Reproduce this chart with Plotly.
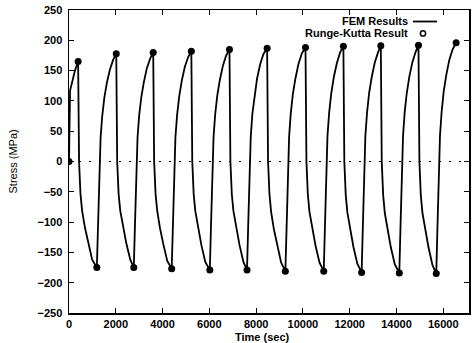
import plotly.graph_objects as go

# FEM results: time (s) and stress (MPa)
fem_time = [
    0, 20, 45, 115, 255, 390,
    430, 490, 560, 680, 820, 990, 1190,
    1240, 1280, 1310, 1350, 1420, 1510, 1620, 1750, 1890, 2020,
    2060, 2120, 2190, 2310, 2450, 2620, 2770,
    2820, 2860, 2890, 2930, 3000, 3090, 3200, 3330, 3470, 3600,
    3640, 3700, 3770, 3890, 4030, 4200, 4390,
    4440, 4480, 4510, 4550, 4620, 4710, 4820, 4950, 5090, 5230,
    5270, 5330, 5400, 5520, 5660, 5830, 6020,
    6070, 6110, 6140, 6180, 6250, 6340, 6450, 6580, 6720, 6860,
    6900, 6960, 7030, 7150, 7290, 7460, 7610,
    7660, 7700, 7730, 7770, 7840, 7930, 8040, 8170, 8310, 8470,
    8510, 8570, 8640, 8760, 8900, 9070, 9250,
    9300, 9340, 9370, 9410, 9480, 9570, 9680, 9810, 9950, 10110,
    10150, 10210, 10280, 10400, 10540, 10710, 10890,
    10940, 10980, 11010, 11050, 11120, 11210, 11320, 11450, 11590, 11730,
    11770, 11830, 11900, 12020, 12160, 12330, 12510,
    12560, 12600, 12630, 12670, 12740, 12830, 12940, 13070, 13210, 13330,
    13370, 13430, 13500, 13620, 13760, 13930, 14120,
    14170, 14210, 14240, 14280, 14350, 14440, 14550, 14680, 14820, 14940,
    14980, 15040, 15110, 15230, 15370, 15540, 15700,
    15750, 15790, 15820, 15860, 15930, 16020, 16130, 16260, 16400, 16550,
]
fem_stress = [
    0, 100, 117, 128, 150, 165,
    0, -53, -81, -109, -135, -162, -175,
    -105, -51, 0, 39, 75, 105, 130, 152, 168, 178,
    0, -53, -81, -109, -135, -162, -175,
    -105, -51, 0, 40, 76, 106, 131, 154, 170, 180,
    0, -53, -81, -110, -136, -164, -177,
    -106, -51, 0, 40, 76, 107, 133, 156, 172, 182,
    0, -54, -82, -111, -138, -166, -179,
    -107, -52, 0, 41, 78, 109, 135, 158, 175, 185,
    0, -54, -82, -111, -138, -166, -179,
    -107, -52, 0, 41, 79, 110, 137, 160, 177, 187,
    0, -54, -83, -112, -139, -167, -181,
    -109, -52, 0, 41, 79, 111, 137, 161, 178, 188,
    0, -54, -83, -112, -139, -167, -181,
    -109, -52, 0, 42, 80, 112, 139, 162, 180, 190,
    0, -55, -84, -113, -141, -169, -183,
    -110, -53, 0, 42, 80, 113, 139, 163, 180, 191,
    0, -55, -85, -114, -142, -170, -184,
    -110, -53, 0, 42, 81, 113, 140, 164, 181, 192,
    0, -56, -85, -115, -142, -171, -185,
    -111, -54, 0, 43, 82, 116, 143, 168, 185, 196,
]

# Runge-Kutta results (points)
rk_time = [0, 390, 1190, 2020, 2770, 3600, 4390, 5230, 6020, 6860, 7610,
           8470, 9250, 10110, 10890, 11730, 12510, 13330, 14120, 14940, 15700, 16550]
rk_stress = [0, 165, -175, 178, -175, 180, -177, 182, -179, 185, -179,
             187, -181, 188, -181, 190, -183, 191, -184, 192, -185, 196]

series_names = ["FEM Results", "Runge-Kutta Result"]
x_title = "Time (sec)"
y_title = "Stress (MPa)"

FONT = "Liberation Sans, Arial, sans-serif"
TXT = dict(family=FONT, size=11, color="black", weight="bold")
TXT_Y = dict(family=FONT, size=11, color="black")

fig = go.Figure()
fig.add_trace(go.Scatter(x=fem_time, y=fem_stress, mode="lines",
                         line=dict(color="black", width=1.8),
                         name=series_names[0], showlegend=False,
                         hoverinfo="skip"))
fig.add_trace(go.Scatter(x=rk_time, y=rk_stress, mode="markers",
                         marker=dict(color="black", size=7, symbol="circle"),
                         name=series_names[1], showlegend=False,
                         hoverinfo="skip"))

fig.add_hline(y=0, line=dict(color="black", width=1, dash="2px,8px"))

# gnuplot-style key (text left, sample right)
fig.add_annotation(x=0.8525, y=0.965, xref="paper", yref="paper",
                   text=series_names[0], showarrow=False,
                   xanchor="right", yanchor="middle", font=TXT)
fig.add_annotation(x=0.8525, y=0.9226, xref="paper", yref="paper",
                   text=series_names[1], showarrow=False,
                   xanchor="right", yanchor="middle", font=TXT)
fig.add_shape(type="line", xref="paper", yref="paper",
              x0=0.86, x1=0.92, y0=0.962, y1=0.962,
              line=dict(color="black", width=1.8))
fig.add_shape(type="circle", xref="paper", yref="paper",
              x0=0.885 - 0.0065, x1=0.885 + 0.0065,
              y0=0.9226 - 0.0086, y1=0.9226 + 0.0086,
              line=dict(color="black", width=1.5))

# axis titles
fig.add_annotation(x=0.4825, y=-0.079, xref="paper", yref="paper",
                   text=x_title, showarrow=False,
                   xanchor="center", yanchor="middle", font=TXT)
fig.add_annotation(x=-0.1425, y=0.5, xref="paper", yref="paper",
                   text=y_title, showarrow=False, textangle=-90,
                   xanchor="center", yanchor="middle", font=TXT_Y)

axis_common = dict(
    showline=True, linecolor="black", linewidth=1.5, mirror="ticks",
    ticks="inside", ticklen=5, tickwidth=1, tickcolor="black",
    showgrid=False, zeroline=False, automargin=False,
    tickfont=TXT,
)

fig.update_xaxes(range=[0, 17100], dtick=2000, tick0=0, tickformat="d",
                 **axis_common)
fig.update_yaxes(range=[-250, 250], dtick=50, tick0=0, tickformat="d",
                 ticklabelstandoff=3,
                 **axis_common)

fig.update_layout(
    width=475, height=343,
    margin=dict(l=69, r=6, t=10, b=30, autoexpand=False),
    paper_bgcolor="white", plot_bgcolor="white",
    showlegend=False, hovermode=False,
)

fig.write_html("out.html", config={"displayModeBar": False, "staticPlot": True},
               post_script="document.body.style.margin='0';document.body.style.overflow='hidden';")
